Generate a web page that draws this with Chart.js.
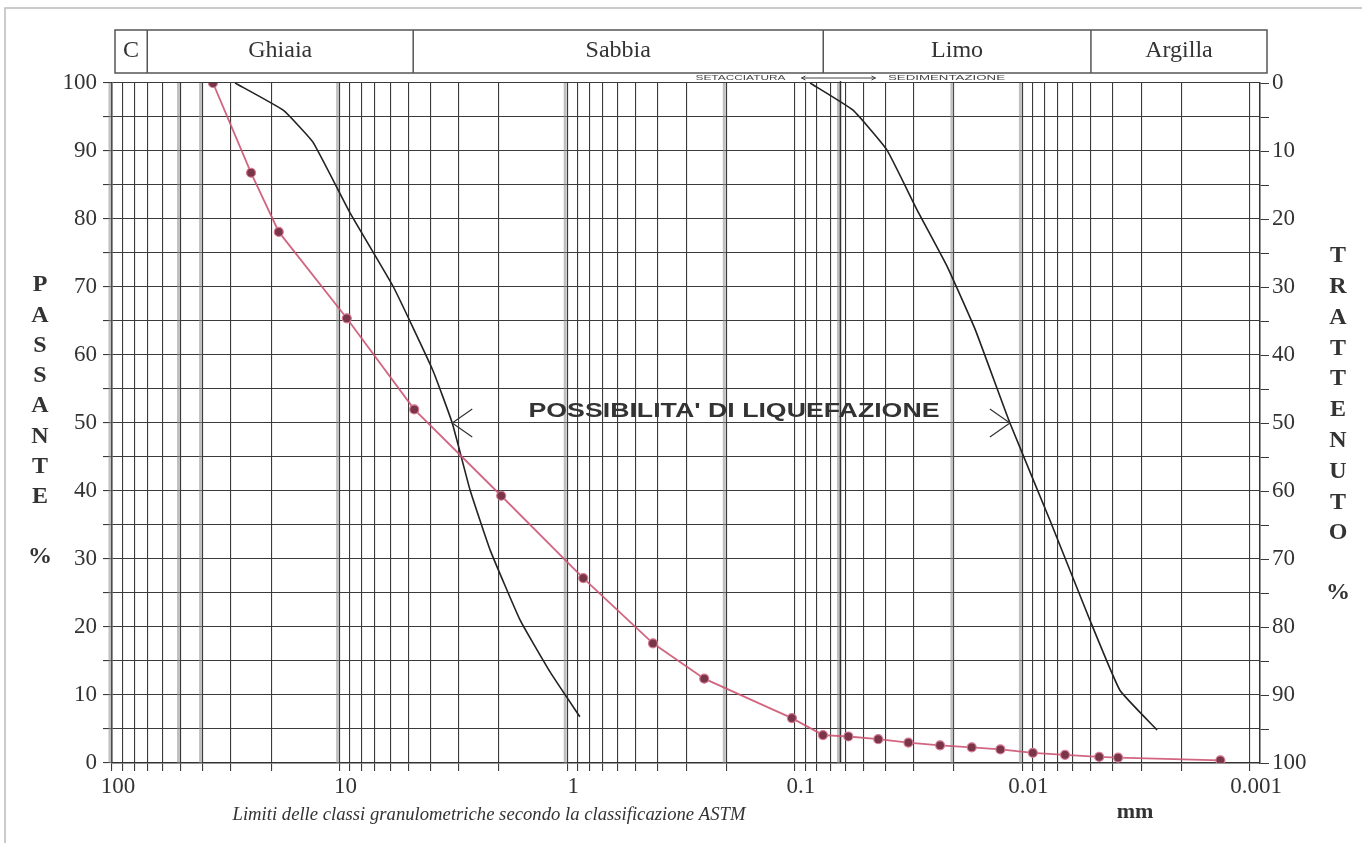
<!DOCTYPE html>
<html>
<head>
<meta charset="utf-8">
<script src="https://cdn.jsdelivr.net/npm/chart.js@4.4.1/dist/chart.umd.min.js"></script>
<style>
  html, body { margin: 0; padding: 0; background: #fff; }
  #wrap { width: 1362px; height: 843px; }
</style>
</head>
<body>
<div id="wrap"><canvas id="chart1" width="1362" height="843"></canvas></div>
<script>
// grain size curve (mm) vs passing (%)
const sampleSize = [36, 24.5, 18.5, 9.3, 4.7, 1.95, 0.85, 0.42, 0.25, 0.103, 0.0752, 0.0582, 0.043, 0.0317, 0.023, 0.0167, 0.0125, 0.009, 0.0065, 0.0046, 0.0038, 0.00135];
const samplePass = [100, 86.8, 78.1, 65.4, 52, 39.3, 27.2, 17.6, 12.4, 6.6, 4.1, 3.9, 3.5, 3.0, 2.6, 2.3, 2.0, 1.5, 1.2, 0.9, 0.8, 0.4];

// liquefaction limits
const coarseLimitSize = [28.8, 17.7, 13.1, 9.0, 5.8, 3.9, 3.2, 2.67, 2.18, 1.61, 1.19, 0.88];
const coarseLimitPass = [100, 96, 91.3, 80.9, 70, 57.8, 50, 40.1, 31.3, 21, 13.4, 6.8];
const fineLimitSize = [0.0857, 0.0555, 0.0393, 0.029, 0.0214, 0.0161, 0.01135, 0.00757, 0.00505, 0.00373, 0.00256];
const fineLimitPass = [100, 96, 90.1, 81.3, 73, 63.7, 50, 35.7, 21, 10.7, 4.85];

// class limits (mm) and names
const classLimits = [70, 4.75, 0.075, 0.005];
const classNames = ['C', 'Ghiaia', 'Sabbia', 'Limo', 'Argilla'];
const splitSize = 0.063; // setacciatura / sedimentazione
const arrowSizes = [3.2, 0.01135];
const arrowPass = 50;

const xTickLabels = ['100', '10', '1', '0.1', '0.01', '0.001'];
const grayLines = [100, 50, 40, 10, 1, 0.2, 0.063, 0.02, 0.01];

let gridValues = [];
for (let d = 2; d >= -3; d--) {
    for (let m = 9; m >= 1; m--) {
        const v = m * Math.pow(10, d - 1);
        if (v <= 100 && v >= 0.001) gridValues.push(v);
    }
}
gridValues.unshift(100);

function isDecade(v) {
    const l = Math.log10(v);
    return Math.abs(l - Math.round(l)) < 1e-9;
}

function fitText(ctx, text, cx, cy, width) {
    const w = ctx.measureText(text).width;
    ctx.save();
    ctx.translate(cx, cy);
    ctx.scale(width / w, 1);
    ctx.fillText(text, 0, 0);
    ctx.restore();
}

const decor = {
    id: 'decor',
    beforeDraw(chart) {
        const ctx = chart.ctx;
        ctx.save();
        ctx.fillStyle = '#fff';
        ctx.fillRect(0, 0, chart.width, chart.height);
        ctx.strokeStyle = '#bbb';
        ctx.lineWidth = 1.5;
        ctx.beginPath();
        ctx.moveTo(5, 843); ctx.lineTo(5, 8); ctx.lineTo(1362, 8);
        ctx.stroke();
        ctx.restore();
    },
    beforeDatasetsDraw(chart) {
        const {ctx, chartArea: a, scales: {x}} = chart;
        ctx.save();
        ctx.strokeStyle = 'rgba(140,140,140,0.55)';
        ctx.lineWidth = 3;
        grayLines.forEach(v => {
            const px = x.getPixelForValue(v) - 2;
            ctx.beginPath(); ctx.moveTo(px, a.top); ctx.lineTo(px, a.bottom); ctx.stroke();
        });
        // split line
        const sx = x.getPixelForValue(splitSize);
        ctx.strokeStyle = '#333';
        ctx.lineWidth = 1.5;
        ctx.beginPath(); ctx.moveTo(sx, 74); ctx.lineTo(sx, a.bottom); ctx.stroke();
        ctx.restore();
    },
    afterDraw(chart) {
        const {ctx, chartArea: a, scales: {x, y}} = chart;
        ctx.save();
        // class band
        const bx0 = a.left + 3, bx1 = a.right + 7, by0 = 30, by1 = 73;
        ctx.fillStyle = '#fff';
        ctx.fillRect(bx0, by0, bx1 - bx0, by1 - by0);
        ctx.strokeStyle = '#555';
        ctx.lineWidth = 1.5;
        ctx.strokeRect(bx0, by0, bx1 - bx0, by1 - by0);
        const edges = [bx0];
        classLimits.forEach(v => {
            const px = x.getPixelForValue(v);
            edges.push(px);
            ctx.beginPath(); ctx.moveTo(px, by0); ctx.lineTo(px, by1); ctx.stroke();
        });
        edges.push(bx1);
        ctx.fillStyle = '#333';
        ctx.font = '24px "Liberation Serif"';
        ctx.textAlign = 'center';
        ctx.textBaseline = 'middle';
        classNames.forEach((n, i) => ctx.fillText(n, (edges[i] + edges[i + 1]) / 2, 51));

        // setacciatura / sedimentazione
        const sx = x.getPixelForValue(splitSize);
        ctx.fillStyle = '#fff';
        ctx.fillRect(sx - 150, 74, 320, 7);
        ctx.fillStyle = '#444';
        ctx.font = '8px "Liberation Sans"';
        ctx.textAlign = 'center';
        fitText(ctx, 'SETACCIATURA', sx - 100, 78, 90);
        fitText(ctx, 'SEDIMENTAZIONE', sx + 106, 78, 117);
        ctx.strokeStyle = '#444';
        ctx.lineWidth = 1;
        ctx.beginPath();
        ctx.moveTo(sx - 39, 78); ctx.lineTo(sx + 35, 78);
        ctx.moveTo(sx - 35, 76); ctx.lineTo(sx - 39, 78); ctx.lineTo(sx - 35, 80);
        ctx.moveTo(sx + 31, 76); ctx.lineTo(sx + 35, 78); ctx.lineTo(sx + 31, 80);
        ctx.stroke();

        // liquefaction label and arrows
        const ay = y.getPixelForValue(arrowPass);
        const ax0 = x.getPixelForValue(arrowSizes[0]);
        const ax1 = x.getPixelForValue(arrowSizes[1]);
        ctx.fillStyle = '#333';
        ctx.font = 'bold 20px "Liberation Sans"';
        fitText(ctx, "POSSIBILITA' DI LIQUEFAZIONE", 734, ay - 12, 411);
        ctx.strokeStyle = '#333';
        ctx.lineWidth = 1.2;
        ctx.beginPath();
        ctx.moveTo(ax0 + 20, ay - 14); ctx.lineTo(ax0, ay); ctx.lineTo(ax0 + 20, ay + 14);
        ctx.moveTo(ax1 - 20, ay - 14); ctx.lineTo(ax1, ay); ctx.lineTo(ax1 - 20, ay + 14);
        ctx.stroke();

        // axis titles
        ctx.font = 'bold 24px "Liberation Serif"';
        ctx.fillStyle = '#333';
        'PASSANTE'.split('').forEach((c, i) => ctx.fillText(c, 40, 285 + i * 30.3));
        ctx.fillText('%', 40, 557);
        'TRATTENUTO'.split('').forEach((c, i) => ctx.fillText(c, 1338, 256 + i * 30.8));
        ctx.fillText('%', 1338, 593);

        // mm and caption
        ctx.font = 'bold 22px "Liberation Serif"';
        ctx.fillText('mm', 1135, 812);
        ctx.font = 'italic 18px "Liberation Serif"';
        fitText(ctx, 'Limiti delle classi granulometriche secondo la classificazione ASTM', 489, 815, 513);
        ctx.restore();
    }
};

const tickFont = {family: '"Liberation Serif"', size: 23};

new Chart('chart1', {
    type: 'scatter',
    data: {
        datasets: [{
            data: sampleSize.map((v, i) => ({x: v, y: samplePass[i]})),
            showLine: true,
            borderColor: 'rgba(205,85,115,0.9)',
            borderWidth: 1.8,
            pointRadius: 4.5,
            pointBackgroundColor: '#7a3648',
            pointBorderColor: '#d47a94',
            pointBorderWidth: 1.2
        }, {
            data: coarseLimitSize.map((v, i) => ({x: v, y: coarseLimitPass[i]})),
            showLine: true,
            borderColor: '#222',
            borderWidth: 1.6,
            pointRadius: 0,
            tension: 0.12
        }, {
            data: fineLimitSize.map((v, i) => ({x: v, y: fineLimitPass[i]})),
            showLine: true,
            borderColor: '#222',
            borderWidth: 1.6,
            pointRadius: 0,
            tension: 0.12
        }]
    },
    options: {
        responsive: false,
        animation: false,
        events: [],
        layout: {padding: {top: 83, left: 0, right: 0, bottom: 0}},
        plugins: {legend: {display: false}, tooltip: {enabled: false}},
        scales: {
            x: {
                type: 'logarithmic',
                reverse: true,
                min: 0.000904,
                max: 100,
                afterBuildTicks: s => { s.ticks = gridValues.map(v => ({value: v})); },
                afterFit: s => { s.height = 80; },
                ticks: {
                    autoSkip: false,
                    maxRotation: 0,
                    labelOffset: 6,
                    padding: 2,
                    color: '#333',
                    font: tickFont,
                    callback: v => isDecade(v) ? xTickLabels[2 - Math.round(Math.log10(v))] : ''
                },
                grid: {color: '#3a3a3a', lineWidth: 1.1, tickLength: 8},
                border: {color: '#333', width: 1.5}
            },
            y: {
                position: 'left',
                min: 0,
                max: 100,
                afterFit: s => { s.width = 112; },
                ticks: {
                    stepSize: 5,
                    padding: 6,
                    color: '#333',
                    font: tickFont,
                    callback: v => v % 10 === 0 ? v : ''
                },
                grid: {color: '#3a3a3a', lineWidth: 1.1, tickLength: 9},
                border: {color: '#333', width: 1.5}
            },
            y2: {
                position: 'right',
                reverse: true,
                min: 0,
                max: 100,
                afterFit: s => { s.width = 102; },
                ticks: {
                    stepSize: 5,
                    padding: 3,
                    color: '#333',
                    font: tickFont,
                    callback: v => v % 10 === 0 ? v : ''
                },
                grid: {drawOnChartArea: false, color: '#3a3a3a', tickLength: 9},
                border: {color: '#333', width: 1.5}
            }
        }
    },
    plugins: [decor]
});
</script>
</body>
</html>
